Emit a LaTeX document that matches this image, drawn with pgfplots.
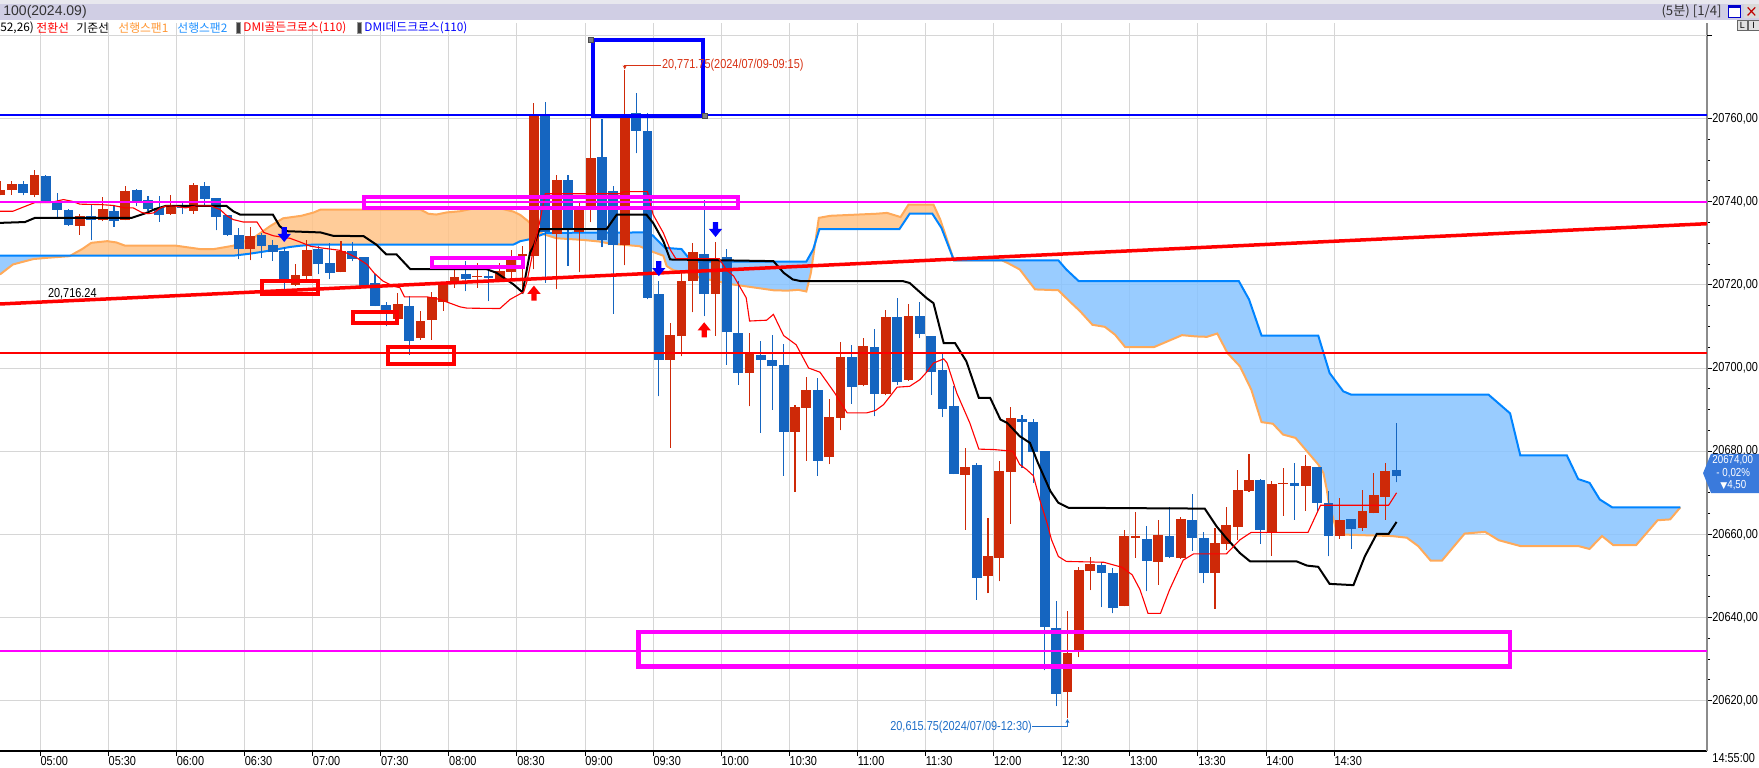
\documentclass[border=0pt]{standalone}
\usepackage{fontspec}
\setmainfont{Liberation Sans}
\newfontfamily\kr{Noto Sans CJK KR}
\newfontfamily\narrow[FakeStretch=0.84]{Liberation Sans}
\newfontfamily\dejavu{DejaVu Sans}
\usepackage{pgfplots}
\usepackage{pgfplotstable}
\pgfplotsset{compat=1.18}
\usetikzlibrary{arrows.meta}

\definecolor{cred}{RGB}{206,41,8}
\definecolor{cblue}{RGB}{21,101,192}
\definecolor{spanAfill}{RGB}{255,195,135}
\definecolor{spanAline}{RGB}{255,170,90}
\definecolor{spanBfill}{RGB}{135,195,255}
\definecolor{spanBline}{RGB}{0,132,255}
\definecolor{gridgray}{RGB}{214,214,214}
\definecolor{hdr}{RGB}{208,206,228}
\definecolor{hdrtop}{RGB}{232,232,238}
\definecolor{mag}{RGB}{255,0,255}
\definecolor{badge}{RGB}{58,122,220}
\definecolor{annblue}{RGB}{30,110,200}
\definecolor{annred}{RGB}{215,50,20}
\definecolor{legorange}{RGB}{255,150,50}
\definecolor{legblue}{RGB}{30,144,255}

\pgfplotstableread{
x o h l c
-3.5 20741.7 20745.0 20741.5 20742.9
-2.5 20742.9 20745.0 20741.7 20744.2
-0.5 20741.7 20747.5 20741.1 20746.3
3.5 20734.2 20737.0 20732.1 20736.5
5.5 20735.5 20741.1 20735.3 20738.2
7.5 20735.7 20743.8 20735.5 20742.5
11.5 20737.1 20741.5 20736.9 20739.0
13.5 20737.8 20744.6 20737.1 20744.0
18.5 20728.5 20733.8 20725.9 20731.7
22.5 20720.0 20724.9 20719.7 20722.3
23.5 20722.2 20730.9 20721.1 20728.3
26.5 20723.2 20730.5 20723.0 20728.1
31.5 20711.9 20718.1 20711.6 20715.4
33.5 20707.1 20713.8 20706.8 20711.4
34.5 20711.6 20718.3 20706.8 20717.1
35.5 20715.8 20720.5 20713.8 20720.2
36.5 20720.1 20723.7 20719.3 20721.9
38.5 20721.8 20725.3 20719.3 20722.2
40.5 20721.4 20725.3 20721.3 20723.4
41.5 20723.2 20728.4 20721.3 20726.6
42.5 20726.9 20729.3 20718.5 20727.3
43.5 20727.0 20763.7 20723.7 20760.7
45.5 20732.2 20746.5 20719.0 20745.3
47.5 20732.7 20740.1 20723.0 20738.1
48.5 20738.1 20760.1 20735.0 20750.5
51.5 20729.5 20771.75 20724.7 20760.1
55.5 20701.9 20710.8 20680.8 20708.0
56.5 20707.6 20723.3 20702.8 20720.9
57.5 20720.9 20730.1 20713.4 20727.9
59.5 20717.9 20730.3 20707.8 20726.5
62.5 20698.8 20708.4 20690.8 20703.8
66.5 20684.7 20691.2 20670.2 20690.6
67.5 20690.5 20697.9 20677.7 20694.6
69.5 20678.5 20692.6 20676.9 20688.2
70.5 20688.1 20706.2 20685.0 20702.7
72.5 20695.8 20707.2 20695.6 20705.3
74.5 20693.8 20714.0 20693.5 20712.3
76.5 20697.2 20715.4 20697.0 20712.5
81.5 20674.4 20680.8 20661.1 20676.2
83.5 20650.1 20663.9 20645.9 20654.7
84.5 20654.3 20677.6 20648.7 20675.2
85.5 20675.0 20690.6 20662.6 20688.0
90.5 20622.0 20641.5 20615.75 20631.4
91.5 20632.0 20652.2 20630.5 20651.4
92.5 20651.1 20654.6 20646.6 20652.9
95.5 20642.9 20661.1 20642.7 20659.5
96.5 20659.1 20665.4 20654.4 20659.5
98.5 20653.4 20663.5 20647.9 20659.8
100.5 20654.3 20664.2 20654.2 20663.7
103.5 20650.7 20661.5 20642.1 20657.9
104.5 20657.8 20666.6 20656.3 20662.2
105.5 20661.8 20675.4 20658.7 20670.7
106.5 20670.5 20679.3 20670.2 20673.0
108.5 20660.6 20672.8 20654.9 20672.1
109.5 20672.0 20675.9 20664.5 20672.4
111.5 20671.7 20679.2 20665.7 20676.4
114.5 20659.7 20668.8 20659.0 20663.5
116.5 20661.5 20670.6 20660.9 20665.7
117.5 20665.1 20674.8 20665.1 20669.5
118.5 20669.0 20677.2 20663.5 20675.2
}\upC

\pgfplotstableread{
x o h l c
-1.5 20744.2 20745.0 20741.5 20742.1
0.5 20746.2 20746.3 20739.8 20740.1
1.5 20740.1 20742.1 20735.8 20738.1
2.5 20738.1 20738.2 20734.2 20734.5
4.5 20736.5 20739.4 20730.7 20735.7
6.5 20737.7 20738.9 20734.0 20735.3
8.5 20742.8 20743.0 20738.9 20740.1
9.5 20740.3 20741.4 20737.7 20738.3
10.5 20738.5 20741.3 20735.2 20736.9
12.5 20739.0 20740.1 20737.0 20738.5
14.5 20743.8 20744.7 20739.3 20740.7
15.5 20740.9 20741.0 20733.1 20736.3
16.5 20736.8 20736.8 20731.8 20732.1
17.5 20732.0 20733.7 20726.1 20728.5
19.5 20732.0 20732.5 20726.5 20729.3
20.5 20729.5 20730.8 20725.8 20727.8
21.5 20728.1 20729.0 20718.8 20721.5
24.5 20728.6 20729.3 20722.6 20724.9
25.5 20725.3 20730.1 20721.4 20722.9
27.5 20728.1 20730.2 20725.7 20726.1
28.5 20726.7 20726.7 20719.7 20719.8
29.5 20720.5 20722.5 20714.9 20715.0
30.5 20715.1 20715.9 20710.0 20713.6
32.5 20715.0 20717.3 20703.2 20706.6
37.5 20722.7 20725.7 20718.5 20721.4
39.5 20722.2 20723.7 20716.1 20721.7
44.5 20760.7 20764.0 20720.5 20732.7
46.5 20745.1 20746.5 20724.6 20733.3
49.5 20750.7 20759.9 20729.0 20730.9
50.5 20742.5 20743.7 20713.0 20729.5
52.5 20761.3 20766.1 20751.6 20757.1
53.5 20757.1 20761.3 20716.5 20716.9
54.5 20717.7 20720.9 20693.2 20702.0
58.5 20727.4 20740.5 20712.5 20717.9
60.5 20726.7 20728.5 20700.8 20708.6
61.5 20708.4 20720.9 20696.0 20698.8
63.5 20703.2 20706.4 20684.4 20702.0
64.5 20702.0 20708.0 20690.0 20700.4
65.5 20700.7 20705.8 20674.1 20684.7
68.5 20694.6 20697.6 20674.1 20677.7
71.5 20702.7 20705.5 20691.4 20695.5
73.5 20705.1 20709.4 20688.4 20693.8
75.5 20712.3 20716.8 20696.0 20696.6
77.5 20712.5 20715.9 20707.2 20708.3
78.5 20707.7 20707.7 20693.6 20699.1
79.5 20699.5 20703.6 20688.2 20690.2
80.5 20690.9 20695.6 20674.5 20674.6
82.5 20676.6 20677.2 20644.3 20649.6
86.5 20687.8 20688.8 20676.0 20687.1
87.5 20687.0 20687.8 20672.4 20679.8
88.5 20680.0 20680.0 20627.3 20637.7
89.5 20637.5 20643.9 20618.7 20621.7
93.5 20652.7 20653.3 20642.5 20650.7
94.5 20650.7 20651.9 20641.0 20642.4
97.5 20658.9 20661.9 20646.3 20653.7
99.5 20659.5 20666.6 20654.3 20654.5
101.5 20663.5 20669.7 20656.1 20659.2
102.5 20659.1 20660.5 20648.3 20650.7
107.5 20673.0 20673.4 20657.8 20661.0
110.5 20672.4 20677.2 20663.5 20671.6
112.5 20676.2 20676.2 20665.7 20667.6
113.5 20667.6 20670.4 20654.7 20659.7
115.5 20663.7 20663.7 20656.6 20661.4
119.5 20675.4 20686.8 20672.5 20674.0
}\dnC

\pgfdeclareplotmark{dnarrow}{%
  \pgfpathmoveto{\pgfpoint{-1.3pt}{3.75pt}}%
  \pgfpathlineto{\pgfpoint{1.3pt}{3.75pt}}%
  \pgfpathlineto{\pgfpoint{1.3pt}{0.3pt}}%
  \pgfpathlineto{\pgfpoint{3.3pt}{0.3pt}}%
  \pgfpathlineto{\pgfpoint{0pt}{-3.75pt}}%
  \pgfpathlineto{\pgfpoint{-3.3pt}{0.3pt}}%
  \pgfpathlineto{\pgfpoint{-1.3pt}{0.3pt}}%
  \pgfpathclose\pgfusepathqfill}
\pgfdeclareplotmark{uparrow}{%
  \pgfpathmoveto{\pgfpoint{-1.3pt}{-3.75pt}}%
  \pgfpathlineto{\pgfpoint{1.3pt}{-3.75pt}}%
  \pgfpathlineto{\pgfpoint{1.3pt}{-0.3pt}}%
  \pgfpathlineto{\pgfpoint{3.3pt}{-0.3pt}}%
  \pgfpathlineto{\pgfpoint{0pt}{3.75pt}}%
  \pgfpathlineto{\pgfpoint{-3.3pt}{-0.3pt}}%
  \pgfpathlineto{\pgfpoint{-1.3pt}{-0.3pt}}%
  \pgfpathclose\pgfusepathqfill}

\pgfplotsset{candle/.style={only marks, mark=*, mark size=0pt, mark options={draw=none, fill=none}, forget plot,
  error bars/.cd, y dir=plus, y explicit, error mark=none}}

\begin{document}
\begin{tikzpicture}[x=1pt,y=1pt]
\path[use as bounding box] (0,0) rectangle (879.5,383.5);
\fill[hdrtop] (0,381.5) rectangle (879.5,383.5);
\fill[hdr] (0,373.5) rectangle (879.5,381.5);
\begin{axis}[
  at={(0,3.85)}, anchor=south west, scale only axis,
  width=853.5pt, height=364pt,
  % prices are entered as they are; the axis works with price - 20600
  y filter/.expression={y-20600},
  xmin=-3.54, xmax=146.85, ymin=7.92, ymax=182.96,
  axis x line*=bottom, axis y line*=right,
  x axis line style={black, line width=0.8pt},
  y axis line style={black!45, line width=0.9pt},
  xtick={0,6,...,114},
  xticklabels={05:00,05:30,06:00,06:30,07:00,07:30,08:00,08:30,09:00,09:30,10:00,10:30,11:00,11:30,12:00,12:30,13:00,13:30,14:00,14:30},
  ytick={20,40,60,80,100,120,140,160},
  yticklabels={{20620,00},{20640,00},{20660,00},{20680,00},{20700,00},{20720,00},{20740,00},{20760,00}},
  extra y ticks={180}, extra y tick labels={},
  extra y tick style={grid=major},
  minor y tick num=3,
  tick align=outside,
  major tick length=2.5pt, minor tick length=1.5pt,
  tick style={black, line width=0.5pt},
  xmajorgrids, ymajorgrids,
  grid style={gridgray, line width=0.5pt},
  x tick label style={font=\narrow\fontsize{6.5}{7}\selectfont, anchor=north west, inner sep=0pt},
  y tick label style={font=\narrow\fontsize{6.5}{7}\selectfont, anchor=west, inner sep=0pt},
  yticklabel pos=right,
]
% Ichimoku cloud fills (region between span A and span B)
\addplot[fill=spanBfill, fill opacity=0.85, draw=none, forget plot] coordinates {(-3.54,20722.5) (-2.4,20724.9) (-0.6,20726.2) (0.6,20726.5) (2.6,20726.9) (2.6,20727.0) (-3.54,20727.0)};
\addplot[fill=spanAfill, fill opacity=0.85, draw=none, forget plot] coordinates {(2.6,20726.9) (3.1,20727.7) (3.7,20728.6) (4.5,20730.1) (5.9,20730.5) (6.7,20730.2) (7.5,20729.4) (12.0,20729.4) (14.1,20728.6) (15.3,20728.6) (17.0,20729.4) (18.8,20731.3) (20.25,20734.1) (21.4,20736.0) (23.0,20736.6) (24.1,20737.4) (24.7,20738.1) (33.5,20738.1) (34.2,20737.1) (34.9,20736.9) (35.8,20737.4) (37.0,20737.7) (38.6,20738.6) (40.5,20738.4) (41.7,20737.6) (42.3,20736.8) (42.9,20735.5) (43.8,20733.2) (44.3,20732.2) (43.2,20731.0) (42.3,20730.5) (41.7,20729.7) (24.1,20729.7) (22.9,20729.4) (22.0,20729.1) (20.8,20728.5) (19.7,20728.0) (18.5,20727.5) (17.0,20727.0) (2.6,20727.0)};
\addplot[fill=spanBfill, fill opacity=0.85, draw=none, forget plot] coordinates {(44.3,20732.2) (45.5,20731.2) (47.85,20730.8) (49.3,20730.4) (50.2,20729.9) (52.8,20729.3) (54.0,20727.9) (54.9,20727.0) (55.2,20724.5) (55.8,20723.5) (57.0,20723.0) (58.1,20721.7) (61.0,20720.1) (64.6,20718.7) (65.8,20718.6) (66.8,20718.8) (67.5,20718.4) (67.9,20722.9) (68.29,20730.3) (68.1,20728.5) (67.5,20725.6) (57.8,20725.6) (57.3,20725.9) (56.5,20728.6) (55.05,20728.9) (54.0,20731.8) (53.4,20732.6) (44.6,20732.5) (44.3,20732.2)};
\addplot[fill=spanAfill, fill opacity=0.85, draw=none, forget plot] coordinates {(68.29,20730.3) (68.6,20736.1) (69.6,20736.6) (73.7,20737.1) (74.6,20737.3) (75.8,20736.3) (76.5,20739.3) (78.7,20739.3) (79.3,20735.7) (80.5,20725.9) (79.4,20733.7) (78.6,20737.1) (76.6,20737.1) (75.7,20733.4) (68.65,20733.4) (68.29,20730.3)};
\addplot[fill=spanBfill, fill opacity=0.85, draw=none, forget plot] coordinates {(80.5,20725.9) (84.7,20725.9) (85.2,20725.3) (86.3,20723.7) (87.65,20718.9) (89.7,20718.7) (90.7,20716.0) (91.6,20713.7) (92.7,20710.4) (93.8,20709.9) (94.7,20708.0) (95.6,20705.0) (98.1,20705.0) (100.6,20707.9) (101.8,20707.6) (102.8,20707.5) (103.7,20708.3) (104.6,20703.6) (105.7,20700.4) (106.7,20694.8) (107.6,20687.0) (108.6,20686.6) (109.5,20684.0) (110.6,20683.2) (111.6,20680.0) (112.6,20676.8) (113.05,20674.8) (113.35,20670.8) (113.5,20668.0) (114.3,20660.0) (119.1,20659.6) (120.4,20659.2) (121.4,20657.2) (122.5,20653.7) (123.5,20653.7) (125.5,20660.2) (127.3,20660.6) (128.5,20658.6) (130.4,20657.2) (135.5,20657.2) (136.5,20656.5) (137.6,20659.6) (138.6,20657.4) (140.6,20657.4) (142.5,20663.4) (143.6,20663.6) (144.5,20666.5) (138.5,20666.5) (137.4,20668.4) (136.5,20672.4) (135.5,20673.3) (134.5,20679.0) (130.4,20679.0) (129.5,20689.1) (127.6,20693.6) (115.5,20693.6) (114.8,20694.4) (113.6,20698.8) (112.6,20707.8) (107.6,20707.8) (106.5,20716.5) (105.6,20720.9) (91.5,20720.9) (91.3,20721.4) (90.4,20723.7) (89.7,20725.9) (80.5,20725.9)};
% span A (leading span 1) and span B (leading span 2)
\addplot[spanAline, line width=1pt] coordinates {(-3.54,20722.5) (-2.4,20724.9) (-0.6,20726.2) (0.6,20726.5) (2.6,20726.9) (3.1,20727.7) (3.7,20728.6) (4.5,20730.1) (5.9,20730.5) (6.7,20730.2) (7.5,20729.4) (12.0,20729.4) (14.1,20728.6) (15.3,20728.6) (17.0,20729.4) (18.8,20731.3) (20.25,20734.1) (21.4,20736.0) (23.0,20736.6) (24.1,20737.4) (24.7,20738.1) (33.5,20738.1) (34.2,20737.1) (34.9,20736.9) (35.8,20737.4) (37.0,20737.7) (38.6,20738.6) (40.5,20738.4) (41.7,20737.6) (42.3,20736.8) (42.9,20735.5) (43.8,20733.2) (44.3,20732.2) (45.5,20731.2) (47.85,20730.8) (49.3,20730.4) (50.2,20729.9) (52.8,20729.3) (54.0,20727.9) (54.9,20727.0) (55.2,20724.5) (55.8,20723.5) (57.0,20723.0) (58.1,20721.7) (61.0,20720.1) (64.6,20718.7) (65.8,20718.6) (66.8,20718.8) (67.5,20718.4) (67.9,20722.9) (68.6,20736.1) (69.6,20736.6) (73.7,20737.1) (74.6,20737.3) (75.8,20736.3) (76.5,20739.3) (78.7,20739.3) (79.3,20735.7) (80.5,20725.9) (84.7,20725.9) (85.2,20725.3) (86.3,20723.7) (87.65,20718.9) (89.7,20718.7) (90.7,20716.0) (91.6,20713.7) (92.7,20710.4) (93.8,20709.9) (94.7,20708.0) (95.6,20705.0) (98.1,20705.0) (100.6,20707.9) (101.8,20707.6) (102.8,20707.5) (103.7,20708.3) (104.6,20703.6) (105.7,20700.4) (106.7,20694.8) (107.6,20687.0) (108.6,20686.6) (109.5,20684.0) (110.6,20683.2) (111.6,20680.0) (112.6,20676.8) (113.05,20674.8) (113.35,20670.8) (113.5,20668.0) (114.3,20660.0) (119.1,20659.6) (120.4,20659.2) (121.4,20657.2) (122.5,20653.7) (123.5,20653.7) (125.5,20660.2) (127.3,20660.6) (128.5,20658.6) (130.4,20657.2) (135.5,20657.2) (136.5,20656.5) (137.6,20659.6) (138.6,20657.4) (140.6,20657.4) (142.5,20663.4) (143.6,20663.6) (144.5,20666.5)};
\addplot[spanBline, line width=1pt] coordinates {(-3.54,20727.0) (17.0,20727.0) (18.5,20727.5) (19.7,20728.0) (20.8,20728.5) (22.0,20729.1) (22.9,20729.4) (24.1,20729.7) (41.7,20729.7) (42.3,20730.5) (43.2,20731.0) (44.6,20732.5) (53.4,20732.6) (54.0,20731.8) (55.05,20728.9) (56.5,20728.6) (57.3,20725.9) (57.8,20725.6) (67.5,20725.6) (68.1,20728.5) (68.65,20733.4) (75.7,20733.4) (76.6,20737.1) (78.6,20737.1) (79.4,20733.7) (80.5,20725.9) (89.7,20725.9) (90.4,20723.7) (91.3,20721.4) (91.5,20720.9) (105.6,20720.9) (106.5,20716.5) (107.6,20707.8) (112.6,20707.8) (113.6,20698.8) (114.8,20694.4) (115.5,20693.6) (127.6,20693.6) (129.5,20689.1) (130.4,20679.0) (134.5,20679.0) (135.5,20673.3) (136.5,20672.4) (137.4,20668.4) (138.5,20666.5) (144.5,20666.5)};
% candles: wicks (low to high) and bodies (open to close)
\addplot[candle, error bar style={cred, line width=0.55pt}] table[x=x, y=l, y error expr=\thisrow{h}-\thisrow{l}] {\upC};
\addplot[candle, error bar style={cred, line width=4.9pt, line cap=butt}] table[x=x, y=o, y error expr=\thisrow{c}-\thisrow{o}] {\upC};
\addplot[candle, error bar style={cblue, line width=0.55pt}] table[x=x, y=l, y error expr=\thisrow{h}-\thisrow{l}] {\dnC};
\addplot[candle, error bar style={cblue, line width=4.9pt, line cap=butt}] table[x=x, y=c, y error expr=\thisrow{o}-\thisrow{c}] {\dnC};
% kijun and tenkan
\addplot[black, line width=1pt] coordinates {(-3.54,20734.9) (-1.34,20735.1) (-0.46,20736.1) (8.06,20736.1) (9.38,20737.3) (10.1,20738.2) (11.1,20739.0) (16.4,20739.0) (17.0,20737.7) (17.6,20736.9) (20.5,20736.9) (21.1,20734.1) (21.7,20732.9) (24.7,20732.6) (25.8,20731.8) (28.5,20731.7) (29.6,20729.7) (30.5,20727.3) (31.4,20727.3) (32.6,20723.8) (39.3,20723.8) (40.2,20722.9) (41.7,20720.1) (42.5,20718.2) (43.15,20727.7) (43.5,20729.5) (44.0,20733.4) (49.9,20733.4) (50.8,20736.9) (53.4,20736.9) (54.0,20734.9) (54.9,20730.5) (55.5,20726.1) (64.6,20725.7) (65.5,20722.9) (66.3,20721.3) (67.0,20720.9) (76.0,20720.9) (76.6,20720.45) (78.1,20716.8) (78.7,20715.6) (79.6,20706.0) (80.6,20706.0) (81.6,20701.6) (82.7,20692.8) (83.7,20692.8) (84.6,20687.6) (85.2,20686.8) (86.3,20683.6) (87.2,20682.0) (87.9,20677.2) (89.0,20670.4) (89.7,20667.6) (90.6,20666.4) (102.6,20666.2) (103.65,20661.9) (104.5,20659.1) (105.7,20655.5) (106.6,20653.5) (110.7,20653.5) (111.6,20652.5) (112.6,20652.2) (113.6,20648.1) (115.7,20647.8) (116.7,20654.7) (117.75,20660.1) (118.8,20660.1) (119.5,20663.0)};
\addplot[red, line width=0.55pt] coordinates {(-3.54,20737.7) (-2.4,20737.7) (-1.3,20738.9) (-0.45,20739.8) (0.9,20739.8) (2.05,20740.5) (2.8,20740.1) (3.5,20739.4) (5.3,20739.3) (6.4,20739.1) (7.5,20738.5) (8.2,20738.5) (8.95,20737.4) (9.5,20737.1) (10.0,20737.3) (10.6,20738.5) (11.15,20739.0) (12.0,20738.9) (12.8,20738.5) (13.8,20739.0) (15.0,20739.0) (15.85,20738.1) (16.45,20736.6) (17.0,20735.7) (17.9,20735.1) (19.1,20735.1) (19.7,20732.6) (20.55,20731.8) (21.4,20731.4) (22.0,20731.2) (22.9,20730.3) (23.8,20729.3) (24.7,20728.9) (26.4,20728.3) (27.3,20727.3) (27.9,20726.5) (28.8,20724.9) (29.4,20722.9) (30.2,20720.9) (31.1,20719.7) (31.7,20719.3) (32.1,20717.1) (34.1,20717.1) (35.2,20716.5) (36.1,20715.6) (37.0,20714.7) (37.6,20714.4) (40.5,20714.3) (41.4,20716.5) (42.0,20717.4) (42.6,20718.3) (42.9,20721.0) (43.4,20727.7) (44.0,20735.0) (44.5,20741.9) (51.0,20741.9) (51.5,20742.4) (53.5,20742.4) (54.0,20736.9) (54.9,20732.5) (55.5,20728.5) (56.0,20726.3) (59.8,20726.3) (60.5,20723.5) (61.1,20722.1) (62.2,20716.9) (62.5,20711.3) (64.0,20711.5) (64.6,20712.9) (65.5,20707.8) (66.6,20705.6) (67.7,20700.0) (68.7,20699.0) (70.0,20694.0) (71.1,20689.2) (72.8,20689.2) (73.6,20689.8) (74.3,20691.2) (75.5,20695.4) (76.6,20695.6) (77.5,20697.2) (78.1,20699.0) (78.7,20701.2) (79.6,20702.2) (79.9,20701.2) (80.75,20694.0) (81.9,20686.8) (82.7,20680.5) (84.0,20680.4) (85.7,20680.0) (86.3,20676.8) (86.9,20675.6) (87.5,20674.1) (88.1,20668.0) (88.7,20662.8) (89.1,20658.7) (89.7,20654.7) (90.4,20653.5) (93.7,20653.3) (95.3,20652.1) (96.2,20650.3) (96.9,20646.7) (97.6,20641.0) (98.7,20641.0) (99.5,20646.7) (100.7,20653.8) (101.6,20655.3) (104.5,20655.3) (105.7,20658.7) (106.7,20660.5) (111.7,20660.5) (112.8,20667.0) (118.8,20667.0) (119.5,20670.0)};
% horizontal lines and trendline
\addplot[blue, line width=1pt] coordinates {(-3.54,20760.8) (146.85,20760.8)};
\addplot[mag, line width=1pt] coordinates {(-3.54,20740.0) (146.85,20740.0)};
\addplot[red, line width=1pt] coordinates {(-3.54,20703.6) (146.85,20703.6)};
\addplot[mag, line width=1pt] coordinates {(-3.54,20632.0) (146.85,20632.0)};
\addplot[red, line width=1.75pt] coordinates {(-3.54,20715.4) (146.85,20734.7)};
% rectangles
\addplot[mag, line width=2.1pt, line cap=rect] coordinates {(28.5,20741.05) (61.5,20741.05) (61.5,20738.5) (28.5,20738.5) (28.5,20741.05)};
\addplot[mag, line width=2pt, line cap=rect] coordinates {(34.5,20726.4) (42.5,20726.4) (42.5,20724.4) (34.5,20724.4) (34.5,20726.4)};
\addplot[mag, line width=2.3pt, line cap=rect] coordinates {(52.7,20636.5) (129.5,20636.5) (129.5,20628.3) (52.7,20628.3) (52.7,20636.5)};
\addplot[red, line width=2pt, line cap=rect] coordinates {(19.55,20720.9) (24.5,20720.9) (24.5,20717.8) (19.55,20717.8) (19.55,20720.9)};
\addplot[red, line width=2pt, line cap=rect] coordinates {(27.55,20713.4) (31.45,20713.4) (31.45,20710.75) (27.55,20710.75) (27.55,20713.4)};
\addplot[red, line width=2pt, line cap=rect] coordinates {(30.6,20705.1) (36.5,20705.1) (36.5,20700.9) (30.6,20700.9) (30.6,20705.1)};
\addplot[blue, line width=2pt, line cap=rect] coordinates {(48.7,20778.8) (58.4,20778.8) (58.4,20760.7) (48.7,20760.7) (48.7,20778.8)};
\addplot[only marks, mark=square*, mark size=1.3pt, mark options={fill=gray, draw=black!70, line width=0.3pt}] coordinates {(48.5,20778.9) (58.55,20760.6)};
% DMI arrows
\addplot[only marks, mark=dnarrow, color=blue] coordinates {(21.5,20732.1) (54.5,20723.9) (59.5,20733.3)};
\addplot[only marks, mark=uparrow, color=red] coordinates {(43.5,20718.0) (58.5,20709.2)};
% high / low annotations
\addplot[annred, line width=0.5pt] coordinates {(51.5,20772.8) (54.7,20772.8)};
\addplot[annred, line width=0.5pt, -{Stealth[length=2pt,width=2pt]}] coordinates {(51.5,20772.8) (51.5,20771.8)};
\addplot[annblue, line width=0.5pt, -{Stealth[length=2pt,width=2pt]}] coordinates {(87.4,20613.7) (90.5,20613.7) (90.5,20615.6)};
% text labels (axis cs works with price - 20600)
\node[anchor=west, inner sep=0pt, text=annred, font=\narrow\fontsize{6.5}{7}\selectfont] at (axis cs:54.75,172.8) {20,771.75(2024/07/09-09:15)};
\node[anchor=east, inner sep=0pt, text=annblue, font=\narrow\fontsize{6.5}{7}\selectfont] at (axis cs:87.4,13.7) {20,615.75(2024/07/09-12:30)};
\node[anchor=west, inner sep=0pt, font=\narrow\fontsize{6.5}{7}\selectfont] at (axis cs:0.66,117.8) {20,716.24};
\end{axis}
% legend row
\begin{scope}[every node/.style={anchor=west, inner sep=0pt, font=\kr\fontsize{5.9}{6.5}\selectfont}]
\node at (0,369.5) {52,26)};
\node[text=red] at (18,369.5) {전환선};
\node at (38,369.5) {기준선};
\node[text=legorange] at (59,369.5) {선행스팬1};
\node[text=legblue] at (88.5,369.5) {선행스팬2};
\node[text=red] at (121.5,369.5) {DMI골든크로스(110)};
\node[text=blue] at (182,369.5) {DMI데드크로스(110)};
\end{scope}
\fill[black!75, draw=black!40, line width=0.3pt] (118,366.8) rectangle (120.2,372.2);
\fill[black!75, draw=black!40, line width=0.3pt] (178.6,366.8) rectangle (180.8,372.2);
% header
\node[anchor=west, inner sep=0pt, text=black!80, font=\fontsize{7}{8}\selectfont] at (1.5,377.6) {100(2024.09)};
\node[anchor=east, inner sep=0pt, text=black!80, font=\kr\fontsize{6.6}{7}\selectfont] at (861,377.6) {(5분) [1/4]};
\draw[blue!80!black, fill=white, line width=0.6pt] (864.2,374.8) rectangle (870.4,380.8);
\fill[blue!80!black] (864.2,379.4) rectangle (870.4,380.8);
\fill[black!15] (872,374.3) rectangle (879.5,381.3);
\draw[red!75!black, line width=0.6pt] (873.8,375.8) -- (877.6,379.8) (873.8,379.8) -- (877.6,375.8);
\draw[black!60, fill=black!12, line width=0.3pt] (868.5,368.5) rectangle (873.8,373.2);
\draw[black!60, fill=black!12, line width=0.3pt] (874.2,368.5) rectangle (879.5,373.2);
\node[inner sep=0pt, font=\fontsize{4.5}{5}\selectfont] at (871.15,370.8) {L};
\node[inner sep=0pt, font=\fontsize{4.5}{5}\selectfont] at (876.85,370.8) {I};
% current price badge
\fill[badge] (851.5,146.9) -- (855.5,156.6) -- (879.5,156.6) -- (879.5,137) -- (855.5,137) -- cycle;
\node[anchor=west, inner sep=0pt, text=white, font=\narrow\fontsize{5.8}{6.2}\selectfont] at (856,153.2) {20674,00};
\node[anchor=west, inner sep=0pt, text=white, font=\narrow\fontsize{5.8}{6.2}\selectfont] at (858,147.1) {- 0,02\%};
\node[anchor=west, inner sep=0pt, text=white, font=\narrow\fontsize{5.8}{6.2}\selectfont] at (860,141.0) {{\dejavu\fontsize{4.5}{5}\selectfont ▼}4,50};
\node[anchor=west, inner sep=0pt, font=\narrow\fontsize{6.5}{7}\selectfont] at (856,4.3) {14:55:00};
\end{tikzpicture}
\end{document}
